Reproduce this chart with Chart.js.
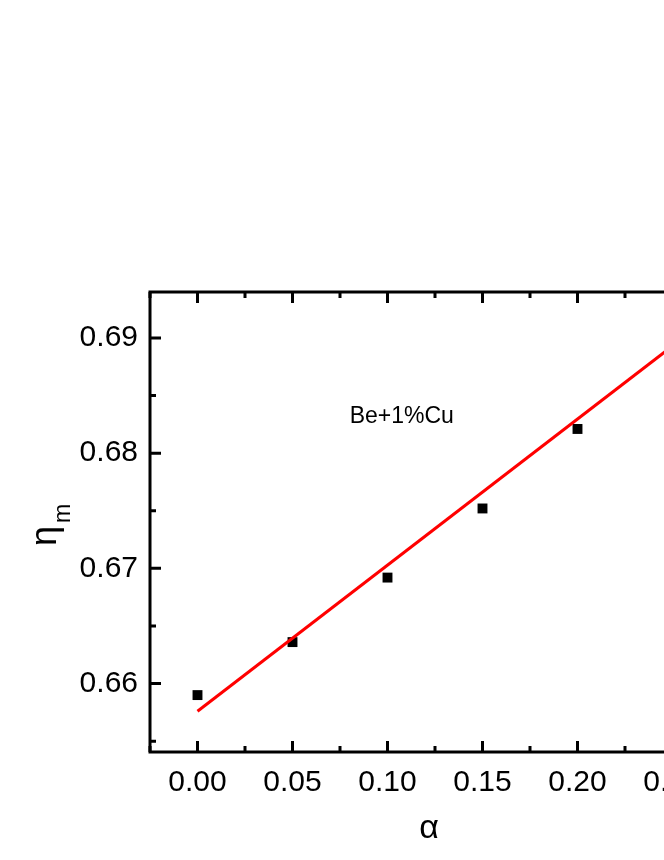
<!DOCTYPE html>
<html>
<head>
    <meta charset="UTF-8">
    <title>eta_m vs alpha</title>
    <style>
        body {
            margin: 0;
            padding: 0;
            background: #fff;
            overflow: hidden;
        }
        #chart {
            display: block;
        }
    </style>
    <script src="https://cdn.jsdelivr.net/npm/chart.js@4.4.1/dist/chart.umd.min.js"></script>
</head>
<body>
    <canvas id="chart" width="760" height="860"></canvas>

    <script>
        // measured points
        const alpha = [0.00, 0.05, 0.10, 0.15, 0.20];
        const etaM = [0.6590, 0.6636, 0.6692, 0.6752, 0.6821];

        // red fit line (end points)
        const fitAlpha = [0.00, 0.25];
        const fitEta = [0.6576, 0.6893];

        const xTicks = [0.00, 0.05, 0.10, 0.15, 0.20, 0.25];
        const yTicks = [0.66, 0.67, 0.68, 0.69];

        const sampleLabel = 'Be+1%Cu';
        const FONT = '"Liberation Sans", Arial, sans-serif';

        const points = alpha.map((a, i) => ({ x: a, y: etaM[i] }));
        const fitLine = fitAlpha.map((a, i) => ({ x: a, y: fitEta[i] }));

        // minor positions are the halfway marks between major ticks
        function tickValues(scale) {
            const major = scale.ticks.map(t => t.value);
            const step = major[1] - major[0];
            const minor = [];
            for (let v = major[0] - step / 2; v <= scale.max + 1e-9; v += step) {
                if (v >= scale.min - 1e-9) minor.push(v);
            }
            return { major, minor };
        }

        // frame, inward ticks on all four sides, axis titles and the label
        const framePlugin = {
            id: 'frame',
            afterDraw(chart) {
                const ctx = chart.ctx;
                const a = chart.chartArea;
                const xs = chart.scales.x;
                const ys = chart.scales.y;
                ctx.save();
                ctx.strokeStyle = '#000';
                ctx.lineWidth = 3;
                ctx.lineCap = 'butt';

                const xt = tickValues(xs);
                const yt = tickValues(ys);
                ctx.beginPath();
                const drawX = (v, len) => {
                    const p = xs.getPixelForValue(v);
                    ctx.moveTo(p, a.bottom); ctx.lineTo(p, a.bottom - len);
                    ctx.moveTo(p, a.top); ctx.lineTo(p, a.top + len);
                };
                const drawY = (v, len) => {
                    const p = ys.getPixelForValue(v);
                    ctx.moveTo(a.left, p); ctx.lineTo(a.left + len, p);
                    ctx.moveTo(a.right, p); ctx.lineTo(a.right - len, p);
                };
                xt.major.forEach(v => drawX(v, 11));
                xt.minor.forEach(v => drawX(v, 6));
                yt.major.forEach(v => drawY(v, 11));
                yt.minor.forEach(v => drawY(v, 6));
                ctx.stroke();

                ctx.strokeRect(a.left, a.top, a.right - a.left, a.bottom - a.top);

                ctx.fillStyle = '#000';
                ctx.textBaseline = 'alphabetic';

                // x title
                ctx.font = '34px ' + FONT;
                ctx.textAlign = 'center';
                ctx.fillText('\u03b1', 429, 838);

                // y title, rotated, with subscript
                ctx.save();
                ctx.rotate(-Math.PI / 2);
                ctx.textAlign = 'left';
                ctx.font = '36px ' + FONT;
                ctx.fillText('\u03b7', -546, 56);
                ctx.font = '23px ' + FONT;
                ctx.fillText('m', -523, 70);
                ctx.restore();

                // sample label
                ctx.font = '23px ' + FONT;
                ctx.textAlign = 'center';
                ctx.fillText(sampleLabel, xs.getPixelForValue(0.1075), ys.getPixelForValue(0.68265));
                ctx.restore();
            }
        };

        new Chart(document.getElementById('chart'), {
            type: 'scatter',
            data: {
                datasets: [
                    {
                        label: 'fit',
                        data: fitLine,
                        showLine: true,
                        borderColor: '#ff0000',
                        borderWidth: 3,
                        pointRadius: 0,
                        fill: false
                    },
                    {
                        label: sampleLabel,
                        data: points,
                        pointStyle: 'rect',
                        pointRadius: 7,
                        pointHoverRadius: 7,
                        backgroundColor: '#000',
                        borderWidth: 0
                    }
                ]
            },
            options: {
                responsive: false,
                animation: false,
                layout: { padding: { top: 292, right: 40, left: 0, bottom: 0 } },
                plugins: {
                    legend: { display: false },
                    tooltip: { enabled: false }
                },
                scales: {
                    x: {
                        type: 'linear',
                        min: -0.025,
                        max: 0.275,
                        grid: { display: false },
                        border: { display: false },
                        afterFit: s => { s.height = 108; },
                        afterBuildTicks: s => { s.ticks = xTicks.map(v => ({ value: v })); },
                        ticks: {
                            padding: 5,
                            color: '#000',
                            font: { family: FONT, size: 30 },
                            callback: v => v.toFixed(2)
                        }
                    },
                    y: {
                        type: 'linear',
                        min: 0.65406,
                        max: 0.69399,
                        grid: { display: false },
                        border: { display: false },
                        afterFit: s => { s.width = 150; },
                        afterBuildTicks: s => { s.ticks = yTicks.map(v => ({ value: v })); },
                        ticks: {
                            padding: 4,
                            color: '#000',
                            font: { family: FONT, size: 30 },
                            callback: v => v.toFixed(2)
                        }
                    }
                }
            },
            plugins: [framePlugin]
        });
    </script>
</body>
</html>
